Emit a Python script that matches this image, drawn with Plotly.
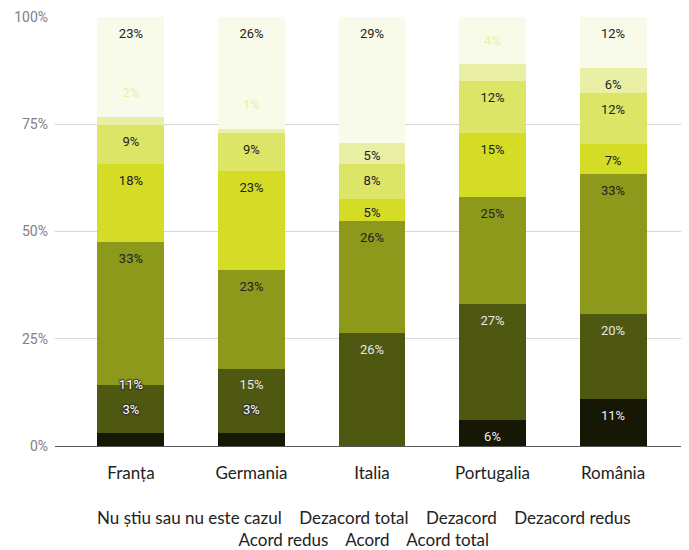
import plotly.graph_objects as go

countries = ["Franța", "Germania", "Italia", "Portugalia", "România"]
series_names = ["Nu știu sau nu este cazul", "Dezacord total", "Dezacord",
                "Dezacord redus", "Acord redus", "Acord", "Acord total"]
# values per series (bottom to top of each bar), per country
s_nustiu = [3, 3, 0, 6, 11]
s_dez_total = [11, 15, 26, 27, 20]
s_dezacord = [33, 23, 26, 25, 33]
s_dez_redus = [18, 23, 5, 15, 7]
s_acord_redus = [9, 9, 8, 12, 12]
s_acord = [2, 1, 5, 4, 6]
s_acord_total = [23, 26, 29, 11, 12]
y_ticks = [0, 25, 50, 75, 100]
y_tick_labels = ["0%", "25%", "50%", "75%", "100%"]

series_values = [s_nustiu, s_dez_total, s_dezacord, s_dez_redus,
                 s_acord_redus, s_acord, s_acord_total]
colors = ["#161705", "#4f5811", "#8c991b", "#d4dc26", "#dde566", "#e9f0a6", "#f8faea"]
label_on = ["#eeeeee", "#e6e6e6", "#222222", "#222222", "#222222", "#222222", "#222222"]

fig = go.Figure()
for name, vals, col in zip(series_names, series_values, colors):
    fig.add_trace(go.Bar(
        x=countries, y=vals, name=name,
        marker=dict(color=col, line=dict(width=0)),
        showlegend=False, hoverinfo="skip",
    ))

# data labels placed near the top of each stacked segment
norm_x, norm_y, norm_t, norm_c = [], [], [], []
halo_x, halo_y, halo_t = [], [], []
for j, c in enumerate(countries):
    total = sum(s[j] for s in series_values)
    cum = 0.0
    prev = -100.0
    for i, s in enumerate(series_values):
        v = s[j]
        if v == 0:
            continue
        bottom = cum / total * 100
        cum += v
        top = cum / total * 100
        y = top + 5.3 if v < 5 else top - 4.1
        if y < prev + 5.8:
            y = prev + 5.8
        prev = y
        outside = y > top - 1.5 or y < bottom
        if outside and i <= 1:
            halo_x.append(c); halo_y.append(y); halo_t.append(f"{v}%")
        else:
            norm_x.append(c); norm_y.append(y); norm_t.append(f"{v}%")
            norm_c.append(colors[i] if outside else label_on[i])

fig.add_trace(go.Scatter(
    x=norm_x, y=norm_y, text=norm_t, mode="text", textposition="middle center",
    textfont=dict(family="Roboto", size=13, color=norm_c),
    cliponaxis=False, showlegend=False, hoverinfo="skip"))
fig.add_trace(go.Scatter(
    x=halo_x, y=halo_y, text=halo_t, mode="text", textposition="middle center",
    textfont=dict(family="Roboto", size=13, color="#ffffff",
                  shadow="1px 1px 1px #333, -1px -1px 1px #333, 1px -1px 1px #333, -1px 1px 1px #333"),
    cliponaxis=False, showlegend=False, hoverinfo="skip"))

fig.update_layout(
    barmode="stack", barnorm="percent", bargap=0.445,
    width=681, height=542,
    margin=dict(l=47, r=0, t=9, b=104),
    plot_bgcolor="white", paper_bgcolor="white",
    xaxis=dict(range=[-0.63, 4.63], showgrid=False, ticks="",
               tickfont=dict(family="Lato", size=17, color="#222222"),
               showline=False, ticklabelstandoff=15),
    yaxis=dict(range=[0, 100], tickvals=y_ticks, ticktext=y_tick_labels,
               showgrid=True, gridcolor="#d6d6d6", gridwidth=1,
               zeroline=True, zerolinecolor="#555555", zerolinewidth=1,
               tickfont=dict(family="Roboto", size=14, color="#808080"),
               ticks="", ticklabelstandoff=6),
)

line1 = "&nbsp;&nbsp;&nbsp;&nbsp;".join(series_names[:4])
line2 = "&nbsp;&nbsp;&nbsp;&nbsp;".join(series_names[4:])
fig.add_annotation(text=line1 + "<br>" + line2, xref="paper", yref="paper",
                   x=0.4866, y=-0.138, xanchor="center", yanchor="top",
                   showarrow=False, align="center",
                   font=dict(family="Lato", size=17, color="#222222"))

fig.write_html("out.html")
